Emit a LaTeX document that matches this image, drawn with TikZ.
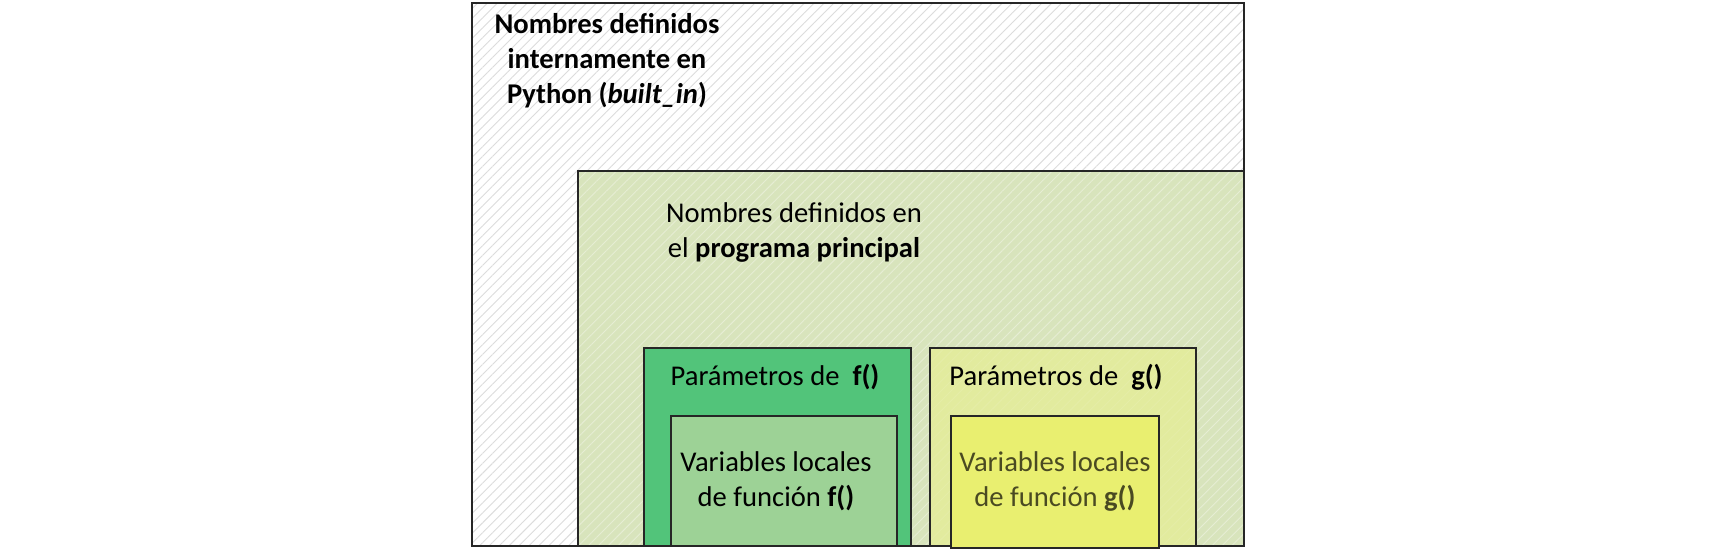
\documentclass[tikz,border=0pt]{standalone}
\usepackage{fontspec}
\setmainfont{Carlito}
\usetikzlibrary{patterns.meta}
\definecolor{edge}{HTML}{262626}
\definecolor{hatchA}{HTML}{DCDCDC}
\definecolor{mainfill}{HTML}{D8E4BC}
\definecolor{hatchB}{HTML}{E6EDD4}
\definecolor{ffill}{HTML}{52C47A}
\definecolor{finner}{HTML}{9DD296}
\definecolor{gfill}{HTML}{E2EB9E}
\definecolor{ginner}{HTML}{E9EF70}
\definecolor{oliveText}{HTML}{4A4A22}
\tikzset{
  boxline/.style={draw=edge, line width=1.3pt},
  hatch/.style={pattern={Lines[angle=45,distance=7pt,line width=0.9pt]}, pattern color=#1},
  lbl/.style={font=\fontsize{28.6}{35}\selectfont, align=center, inner sep=0pt}
}
\begin{document}
\begin{tikzpicture}[x=1pt,y=-1pt]
\useasboundingbox (0,0) rectangle (1716,550);
% outer box
\fill[white] (472,3) rectangle (1244,546);
\fill[hatch=hatchA] (472,3) rectangle (1244,546);
\draw[boxline] (472,3) rectangle (1244,546);
% main program box
\fill[mainfill] (578,171) rectangle (1244,546);
\fill[hatch=hatchB] (578,171) rectangle (1244,546);
\draw[boxline] (578,171) rectangle (1244,546);
% f box
\fill[ffill] (644,348) rectangle (911,546);
\draw[boxline] (644,348) rectangle (911,546);
% g box
\fill[gfill] (930,348) rectangle (1196,546);
\fill[hatch=gfill!80!white, opacity=0.5] (930,348) rectangle (1196,546);
\draw[boxline] (930,348) rectangle (1196,546);
% inner f
\fill[finner] (671,416) rectangle (897,546);
\draw[boxline] (671,416) rectangle (897,546);
% inner g
\fill[ginner] (951,416) rectangle (1159,548);
\draw[boxline] (951,416) rectangle (1159,548);
% labels
\node[lbl, font=\fontsize{28.6}{35}\selectfont\bfseries] (builtin) at (607,61)
  {Nombres definidos\\internamente en\\Python (\textit{built\_in})};
\node[lbl] (principal) at (794,232) {Nombres definidos en\\el \textbf{programa principal}};
\node[lbl] (paramf) at (775,377) {Parámetros de~~\textbf{f()}};
\node[lbl] (paramg) at (1056,377) {Parámetros de~~\textbf{g()}};
\node[lbl] (localf) at (776,481) {Variables locales\\de función \textbf{f()}};
\node[lbl, text=oliveText] (localg) at (1055,481) {Variables locales\\de función \textbf{g()}};
\end{tikzpicture}
\end{document}
